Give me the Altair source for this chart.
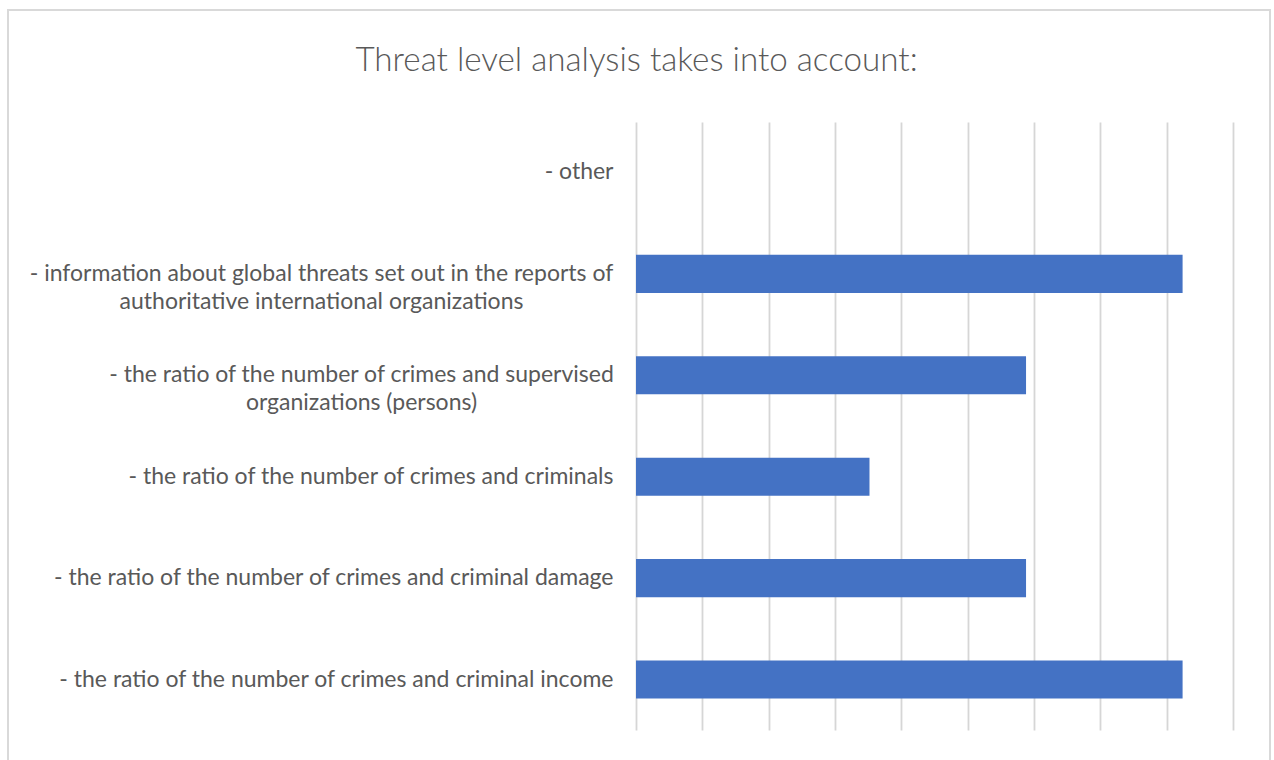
import altair as alt
import pandas as pd

title_text = "Threat level analysis takes into account:"
categories = [
    "- other",
    "- information about global threats set out in the reports of\nauthoritative international organizations",
    "- the ratio of the number of crimes and supervised\norganizations (persons)",
    "- the ratio of the number of crimes and criminals",
    "- the ratio of the number of crimes and criminal damage",
    "- the ratio of the number of crimes and criminal income",
]
shares = [0.0, 0.412, 0.294, 0.176, 0.294, 0.412]
grid_values = [0, 0.05, 0.10, 0.15, 0.20, 0.25, 0.30, 0.35, 0.40, 0.45]

df = pd.DataFrame({"category": categories, "share": shares})

FONT = "Lato"
GREY = "#595959"

label_align = {"condition": {"test": "indexof(datum.value, '\\n') >= 0", "value": "center"}, "value": "right"}
label_pad = {
    "condition": [
        {"test": "indexof(datum.value, 'global threats') >= 0", "value": 315},
        {"test": "indexof(datum.value, 'supervised') >= 0", "value": 275},
    ],
    "value": 23,
}

bars = alt.Chart(df).mark_bar(color="#4472c4").encode(
    x=alt.X(
        "share:Q",
        scale=alt.Scale(domain=[0, 0.45], nice=False, zero=True),
        axis=alt.Axis(
            values=grid_values, labels=False, ticks=False, domain=False, title=None,
            grid=True, gridColor="#d6d6d6", gridWidth=1.8,
        ),
    ),
    y=alt.Y(
        "category:N",
        sort=None,
        scale=alt.Scale(paddingInner=0.625, paddingOuter=0.31),
        axis=alt.Axis(
            title=None, ticks=False, domain=False, grid=False,
            labelExpr="split(datum.value, '\\n')",
            labelFont=FONT, labelFontSize=23, labelColor=GREY,
            labelAlign=label_align, labelPadding=label_pad,
            labelBaseline="middle", labelLineHeight=28, labelLimit=0,
        ),
    ),
)

one = pd.DataFrame({"t": [title_text]})
border = alt.Chart(one).mark_rect(fill=None, stroke="#d9d9d9", strokeWidth=2).encode(
    x=alt.value(-628), x2=alt.value(634), y=alt.value(-112), y2=alt.value(650)
)
title = alt.Chart(one).mark_text(
    font=FONT, fontSize=33.2, fontWeight=300, color=GREY, align="center", baseline="alphabetic"
).encode(text="t:N", x=alt.value(0.5), y=alt.value(-51))

chart = alt.layer(border, title, bars).properties(
    width=597,
    height=608,
    padding={"left": 636, "top": 122, "right": 41, "bottom": 30},
    autosize=alt.AutoSizeParams(type="none"),
    background="white",
).configure_view(strokeWidth=0, stroke="transparent")

chart.save("out.html", embed_options={"renderer": "svg", "actions": False})
